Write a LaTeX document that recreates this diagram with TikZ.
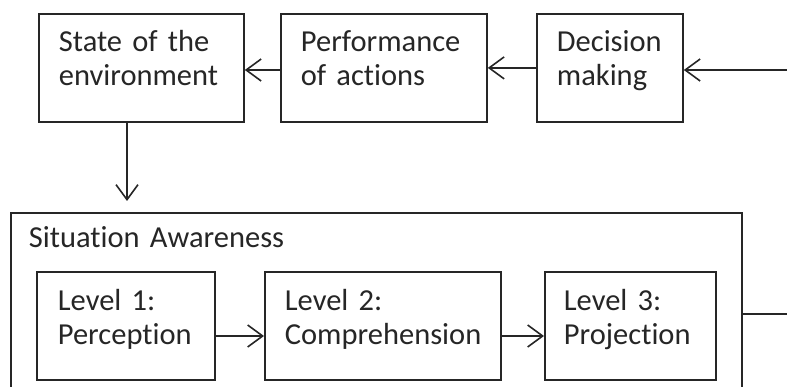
\documentclass[tikz,border=0pt]{standalone}
\usepackage{fontspec}
\setmainfont{Carlito}[Ligatures=NoCommon]
\usetikzlibrary{arrows.meta}
\hyphenpenalty=10000
\newcommand{\boxfont}{\fontsize{30.5}{34}\selectfont\spaceskip=4pt plus 1pt\relax}
\tikzset{
  block/.style={draw=black!85, line width=1.8pt, anchor=north west, align=left,
    inner xsep=20pt, inner ysep=0pt, text height=38pt, text depth=70pt,
    font=\boxfont, text=black!85},
  level/.style={block, text height=39pt, text depth=69pt},
  flow/.style={line width=1.6pt, draw=black!85,
    -{Straight Barb[length=15pt,width=22pt,line width=1.6pt]}},
  link/.style={line width=1.6pt, draw=black!85},
}
\begin{document}
\begin{tikzpicture}[x=1pt,y=-1pt]
        \useasboundingbox (0,0) rectangle (787,387);
        \clip (0,0) rectangle (787,387);

        % Top row
        \node[block, text width=165pt] (env) at (38,13) {State of the\\environment};
        \node[block, text width=166pt] (perf) at (280,13) {Performance\\of actions};
        \node[block, text width=106pt] (dec) at (536,13) {Decision\\making};

        % Situation awareness
        \node[block, text width=695pt, inner xsep=18pt, text height=35pt, text depth=220pt] (sa) at (10,212) {Situation Awareness};
        \node[level, text width=136pt, inner xsep=21pt] (lvl1) at (36,271) {Level 1:\\Perception};
        \node[level, text width=196pt] (lvl2) at (264,271) {Level 2:\\Comprehension};
        \node[level, text width=133pt, inner xsep=19pt] (lvl3) at (544,271) {Level 3:\\Projection};

        % Connectors
        \coordinate (feed) at (787,70);
        \coordinate (act) at (0,70);
        \coordinate (obs) at (127,201);
        \coordinate (lvl) at (0,336);
        \coordinate (out) at (787,314);
        \draw[flow] (feed) -- (dec.east |- feed);
        \draw[flow] (dec.west) -- (perf.east);
        \draw[flow] (perf.west |- act) -- (env.east |- act);
        \draw[flow] (env.south -| obs) -- (obs);
        \draw[flow] (lvl1.east |- lvl) -- (lvl2.west |- lvl);
        \draw[flow] (lvl2.east |- lvl) -- (lvl3.west |- lvl);
        \draw[link] (sa.east |- out) -- (out);
    \end{tikzpicture}
\end{document}
